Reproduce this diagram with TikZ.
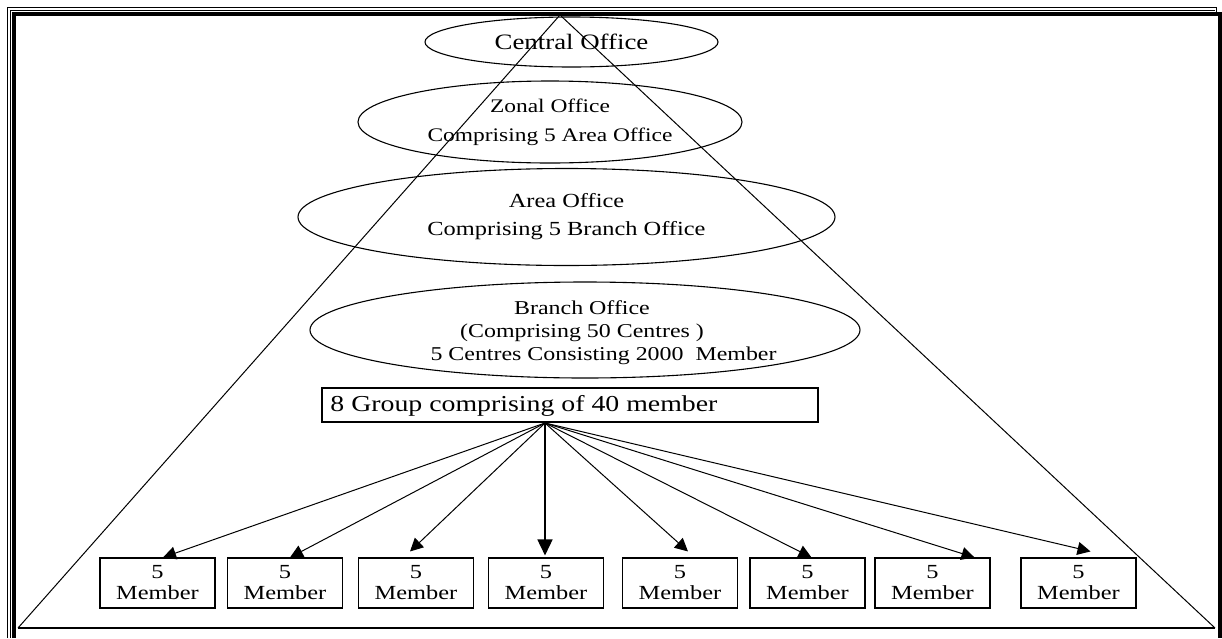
\documentclass[tikz,border=0pt]{standalone}
\usepackage{fontspec}
\setmainfont{Liberation Serif}[FakeStretch=1.22]
\usetikzlibrary{shapes.geometric,arrows.meta,calc}
\begin{document}
\begin{tikzpicture}[x=0.5pt,y=-0.5pt,
  office/.style={draw,ellipse,inner sep=0pt,align=center,line width=0.55pt,
    font=\fontsize{10}{14}\selectfont},
  memberbox/.style={draw,rectangle,line width=0.55pt,minimum width=57.5pt,
    minimum height=25pt,inner sep=0pt,align=center,
    font=\fontsize{10}{10.5}\selectfont},
  fan/.style={line width=0.5pt,-{Triangle[length=6.5pt,width=6.5pt]}},
  bigfan/.style={line width=0.8pt,-{Triangle[length=8pt,width=7.5pt]}},
  tri/.style={line width=0.5pt},
  framethin/.style={line width=0.6pt},
  framethick/.style={line width=1.6pt}]
\useasboundingbox (0,0) rectangle (1222,638);
\fill[white] (0,0) rectangle (1222,638);
% page frame
\draw[framethin] (7.5,638) -- (7.5,7.5) -- (1216.5,7.5) -- (1216.5,12);
\draw[framethin] (10.5,638) -- (10.5,10.5) -- (1215,10.5);
\draw[framethick] (14,638) -- (14,14) -- (1220,14) -- (1220,638);
% triangle
\coordinate (apex) at (560,15);
\coordinate (bl) at (18,628);
\coordinate (br) at (1215,628);
\draw[tri] (bl) -- (apex) -- (br);
\draw[line width=0.7pt] (bl) -- (br);
% offices
\node[office,minimum width=146.5pt,minimum height=25pt,font=\fontsize{11}{14}\selectfont] (central) at (571.5,42) {Central Office};
\node[office,minimum width=192pt,minimum height=41pt,font=\fontsize{9.6}{14.5}\selectfont] (zonal) at (550,122) {Zonal Office\\Comprising 5 Area Office};
\node[office,minimum width=268.5pt,minimum height=48.5pt] (area) at (566.5,217) {Area Office\\Comprising 5 Branch Office};
\node[office,minimum width=275pt,minimum height=48pt,font=\fontsize{10}{11.5}\selectfont] (branch) at (585,330) {\raisebox{0pt}[\height][0pt]{}};
\node[inner sep=0pt,align=center,font=\fontsize{9.8}{11.5}\selectfont] (branchtext) at (582,333) {Branch Office\\(Comprising 50 Centres )\\ \hspace{2.2em}5 Centres Consisting 2000~~Member};
% group box
\node[draw,rectangle,line width=0.55pt,minimum width=248pt,minimum height=17pt,inner sep=0pt] (group) at (570,405) {};
\node[anchor=west,inner sep=0pt,font=\fontsize{11.4}{12}\selectfont] (grouptext) at (330,406) {8 Group comprising of 40 member};
\coordinate (src) at (545,423);
% member boxes
\node[memberbox] (m1) at (157.5,583) {5\\Member};
\node[memberbox] (m2) at (285,583) {5\\Member};
\node[memberbox] (m3) at (416,583) {5\\Member};
\node[memberbox] (m4) at (546,583) {5\\Member};
\node[memberbox] (m5) at (680,583) {5\\Member};
\node[memberbox] (m6) at (807.5,583) {5\\Member};
\node[memberbox] (m7) at (932.5,583) {5\\Member};
\node[memberbox] (m8) at (1078.5,583) {5\\Member};
% fan of arrows
\draw[fan] (src) -- ($(m1.north)+(5.5,0)$);
\draw[fan] (src) -- ($(m2.north)+(5,0)$);
\draw[fan] (src) -- ($(m3.north)+(-6,-6)$);
\draw[bigfan] (src) -- ($(m4.north)+(-1,-2)$);
\draw[fan] (src) -- ($(m5.north)+(8,-6)$);
\draw[fan] (src) -- ($(m6.north)+(4,0)$);
\draw[fan] (src) -- ($(m7.north)+(42,0)$);
\draw[fan] (src) -- ($(m8.north)+(12,-6)$);
\end{tikzpicture}
\end{document}
